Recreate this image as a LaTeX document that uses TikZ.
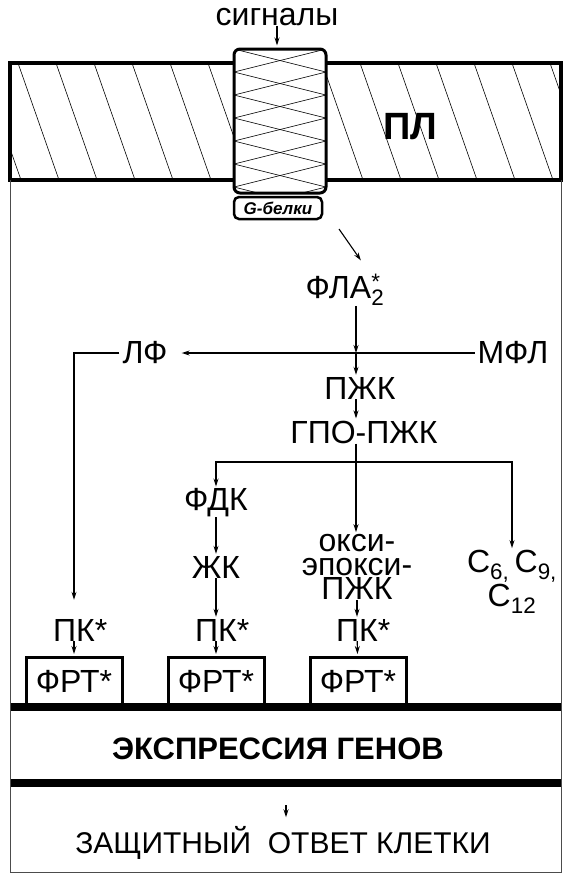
\documentclass[tikz,border=0pt]{standalone}
\usepackage{fontspec}
\setmainfont{Liberation Sans}
\usetikzlibrary{arrows.meta, positioning, calc}

\begin{document}
\begin{tikzpicture}[
    x=1pt, y=-1pt,
    every node/.style={font=\fontsize{32}{30}\selectfont, inner sep=0pt},
    arr/.style={-{Stealth[length=8pt,width=5pt]}, line width=1.1pt, shorten >=2pt},
    hatch/.style={line width=0.6pt},
    boxfrt/.style={draw, line width=3pt, minimum width=96pt, minimum height=47pt},
    thickbar/.style={line width=8pt},
    frame/.style={line width=0.6pt, black!70}
  ]
  \useasboundingbox (0,0) rectangle (571,879);

  % plasma membrane
  \begin{scope}
    \clip (10,63) rectangle (561,180);
    \foreach \k in {-1,...,15}
      \draw[hatch] ({18+38*\k},63) -- ({59+38*\k},180);
  \end{scope}
  \draw[line width=4pt] (10,63) rectangle (561,180);
  \node[font=\fontsize{38}{38}\selectfont\bfseries] (pl) at (410,127) {ПЛ};

  % G-proteins
  \fill[white, rounded corners=6pt] (234,49) rectangle (326,193);
  \begin{scope}
    \clip[rounded corners=6pt] (234,49) rectangle (326,193);
    \foreach \k in {-1,...,7}{
      \draw[hatch] (234,{49+23*\k}) -- (326,{72+23*\k});
      \draw[hatch] (234,{72+23*\k}) -- (326,{49+23*\k});
    }
  \end{scope}
  \node[draw, line width=3pt, rounded corners=6pt, minimum width=92pt, minimum height=144pt] (gp) at (280,121) {};
  \node[draw, line width=2.5pt, rounded corners=5pt, minimum width=88pt, minimum height=22pt,
        font=\fontsize{17}{17}\selectfont\bfseries\itshape] (gl) at (278,208) {G-белки};

  \node (sig) at (277,17) {сигналы};
  \draw[arr] (sig.south) -- (sig.south |- gp.north);

  % cascade
  \coordinate (d1) at (339,229);
  \coordinate (d2) at (362,262);
  \draw[arr] (d1) -- (d2);
  \node (fla) at (345,290) {ФЛА\rlap{\textsuperscript{*}}\textsubscript{2}};

  \coordinate (jn) at (356,353);
  \draw[arr, shorten >=0pt] (fla.south -| jn) -- (jn);
  \node (lf) at (145,353) {ЛФ};
  \node (mfl) at (513,353) {МФЛ};
  \draw[arr, shorten <=3pt, shorten >=14pt] (mfl) -- (lf);

  \node (pzk) at (360,388) {ПЖК};
  \draw[arr] (jn) -- (pzk.north -| jn);
  \node (gpo) at (364,432) {ГПО-ПЖК};
  \draw[arr] (pzk.south -| jn) -- (gpo.north -| jn);

  \coordinate (br) at (356,462);
  \draw[line width=1.1pt] (gpo.south -| br) -- (br);
  \node (fdk) at (216,503) {ФДК};
  \node (zk) at (216,567) {ЖК};
  \node[align=center, font=\fontsize{32}{24}\selectfont] (oksi) at (357,567) {окси-\\эпокси-\\ПЖК};
  \node[align=center, font=\fontsize{32}{34}\selectfont] (cc) at (512,582) {C\textsubscript{6,}\,C\textsubscript{9,}\\C\textsubscript{12}};
  \draw[arr] (br) -| (fdk.north);
  \draw[arr] (br) -- (oksi.north -| br);
  \draw[arr] (br) -| (cc.north);
  \draw[arr] (fdk) -- (zk);

  \node (pk1) at (74,630) {ПК\rlap{*}};
  \node (pk2) at (216,630) {ПК\rlap{*}};
  \node (pk3) at (357,630) {ПК\rlap{*}};
  \draw[arr, shorten <=3pt, shorten >=19pt] (lf.west) -| (pk1.north);
  \draw[arr] (zk) -- (pk2);
  \draw[arr] (oksi) -- (pk3);

  \node[boxfrt] (frt1) at (74,681) {ФРТ*};
  \node[boxfrt] (frt2) at (216,681) {ФРТ*};
  \node[boxfrt] (frt3) at (358,681) {ФРТ*};
  \draw[arr] (pk1) -- (frt1);
  \draw[arr] (pk2) -- (frt2);
  \draw[arr] (pk3) -- (frt3);

  % gene expression
  \draw[thickbar] (10,707) -- (561,707);
  \node[font=\fontsize{31}{31}\selectfont\bfseries] (expr) at (278,749) {ЭКСПРЕССИЯ ГЕНОВ};
  \draw[thickbar] (10,783) -- (561,783);
  \coordinate (z1) at (286,805);
  \node[font=\fontsize{30}{30}\selectfont] (zot) at (283,843) {ЗАЩИТНЫЙ\ \ ОТВЕТ КЛЕТКИ};
  \draw[arr, shorten >=9pt] (z1) -- (zot.north -| z1);

  \draw[frame] (10,180) -- (10,872) -- (561,872) -- (561,180);
\end{tikzpicture}
\end{document}
